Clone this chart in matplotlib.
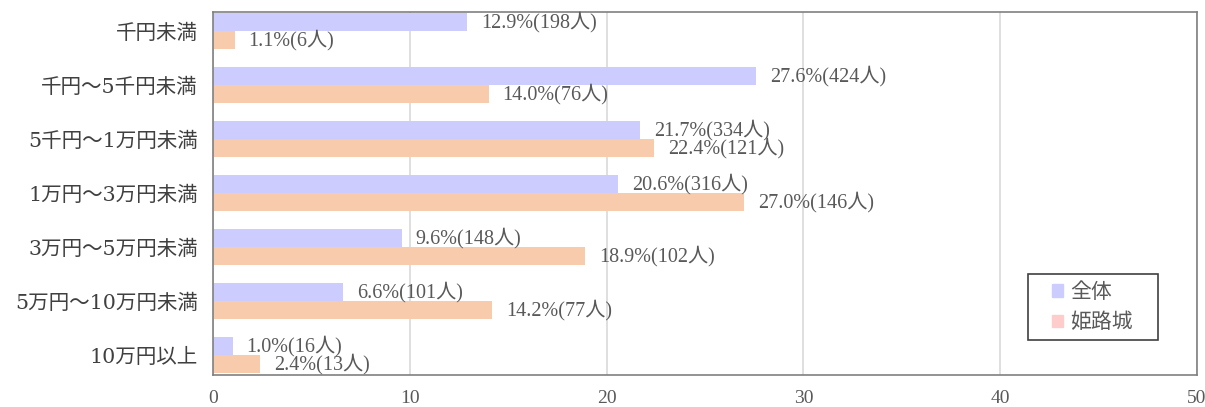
import matplotlib
matplotlib.use("Agg")
import matplotlib.pyplot as plt
import matplotlib.transforms as mtransforms
from matplotlib.patches import Patch, Rectangle

categories = ["千円未満", "千円～5千円未満", "5千円～1万円未満", "1万円～3万円未満",
              "3万円～5万円未満", "5万円～10万円未満", "10万円以上"]
series_names = ["全体", "姫路城"]
zentai_pct = [12.9, 27.6, 21.7, 20.6, 9.6, 6.6, 1.0]
zentai_n = [198, 424, 334, 316, 148, 101, 16]
himeji_pct = [1.1, 14.0, 22.4, 27.0, 18.9, 14.2, 2.4]
himeji_n = [6, 76, 121, 146, 102, 77, 13]
x_ticks = [0, 10, 20, 30, 40, 50]

c_blue = "#CCCCFF"
c_orange = "#F8CBAD"
c_legend2 = "#FFCCCC"
txt = "#595959"
lab_fam = ["Liberation Serif", "Noto Sans CJK JP"]
serif_fam = ["DejaVu Serif", "Noto Sans CJK JP"]
cjk_fam = ["Noto Sans CJK JP", "DejaVu Sans"]

W, H = 1205, 407
fig = plt.figure(figsize=(W / 100, H / 100), dpi=100)
ax = fig.add_axes([213 / W, 1 - 375 / H, (1197 - 213) / W, (375 - 12) / H])

h = 1 / 3
ys = list(range(len(categories)))
ax.barh([y - h / 2 for y in ys], zentai_pct, height=h, color=c_blue, zorder=2)
ax.barh([y + h / 2 for y in ys], himeji_pct, height=h, color=c_orange, zorder=2)

for y, p, n in zip(ys, zentai_pct, zentai_n):
    ax.annotate(f"{p:.1f}%({n}人)", (p, y - h / 2), xytext=(10, 0), textcoords="offset points",
                va="center", ha="left", fontsize=14.5, color=txt, family=lab_fam, zorder=3)
for y, p, n in zip(ys, himeji_pct, himeji_n):
    ax.annotate(f"{p:.1f}%({n}人)", (p, y + h / 2), xytext=(10, 0), textcoords="offset points",
                va="center", ha="left", fontsize=14.5, color=txt, family=lab_fam, zorder=3)

ax.set_xlim(0, 50)
ax.set_ylim(6.37, -0.35)
ax.set_xticks(x_ticks)
ax.set_xticklabels([str(t) for t in x_ticks], family=lab_fam, fontsize=14, color=txt)
ax.set_yticks(ys)
ax.set_yticklabels(categories, family=serif_fam, fontsize=14.8, color="#404040")
shift = mtransforms.ScaledTranslation(0, 3 / 72, fig.dpi_scale_trans)
for t in ax.get_yticklabels():
    t.set_transform(t.get_transform() + shift)
ax.tick_params(length=0)
ax.tick_params(axis="x", pad=11)
ax.tick_params(axis="y", pad=11)
ax.xaxis.grid(True, color="#D9D9D9", linewidth=1.2, zorder=0)
ax.set_axisbelow(True)
for s in ax.spines.values():
    s.set_color("#808080")
    s.set_linewidth(1.2)

# legend box
fig.patches.append(Rectangle((1028 / W, 1 - 340 / H), 130 / W, 66 / H, transform=fig.transFigure,
                             facecolor="white", edgecolor="#404040", linewidth=1.2, zorder=5))
handles = [Patch(color=c_blue), Patch(color=c_legend2)]
leg = fig.legend(handles, series_names, loc="upper left", bbox_to_anchor=(1052 / W, 1 - 281 / H),
                 bbox_transform=fig.transFigure,
                 prop={"family": cjk_fam, "size": 15}, frameon=False,
                 handlelength=0.55, handleheight=0.55, handletextpad=0.3, borderpad=0,
                 labelspacing=0.4, borderaxespad=0)
leg.set_zorder(6)
for t in leg.get_texts():
    t.set_color(txt)

fig.savefig("out.png", dpi=100)
